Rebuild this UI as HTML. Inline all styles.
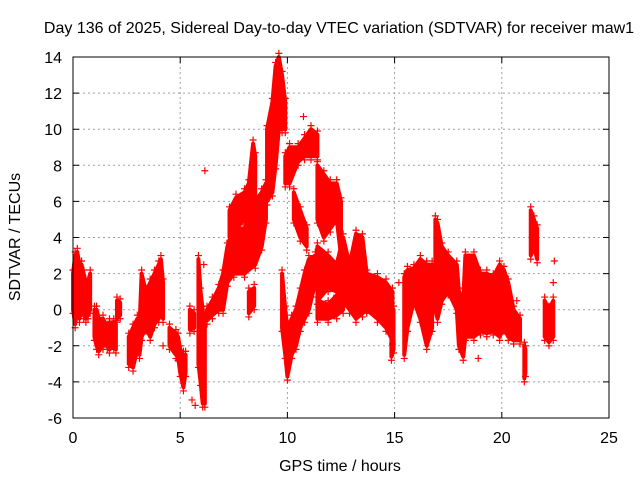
<!DOCTYPE html>
<html><head><meta charset="utf-8"><style>
body{margin:0;background:#fff}
svg{display:block;font-family:"Liberation Sans",sans-serif}
</style></head><body>
<svg id="c" width="640" height="480">
<text x="339" y="33" text-anchor="middle" font-size="16">Day 136 of 2025, Sidereal Day-to-day VTEC variation (SDTVAR) for receiver maw1</text>
<text x="340" y="471" text-anchor="middle" font-size="16">GPS time / hours</text>
<text transform="translate(20,237) rotate(-90)" text-anchor="middle" font-size="16">SDTVAR / TECUs</text>
<g id="grid"></g><g id="ticks"></g><g id="marks"></g>
<rect x="73" y="57" width="536" height="361" fill="none" stroke="#000"/>
</svg>
<script>
const xTicks=[0,5,10,15,20,25];
const yTicks=[-6,-4,-2,0,2,4,6,8,10,12,14];
// each cluster: [time, low, high] columns of observed SDTVAR spread
const c1=[[0,0,2],[0.1,-0.8,3],[0.2,0,3.2],[0.3,-0.5,2.5],[0.4,0,2.5],[0.5,-0.3,2],[0.6,-0.5,1.5],[0.7,-0.3,1.5],[0.8,0,2]];
const c2=[[1.0,-1.5,0],[1.1,-2,0],[1.2,-2.3,-0.5],[1.4,-2,-0.5],[1.6,-2,-1],[1.7,-2.2,-0.7],[1.9,-2,-0.7],[2.0,-2.2,-0.8]];
const c3=[[2.05,-0.5,0.5],[2.2,-0.3,0.4]];
const c4=[[2.6,-3,-1.5],[2.8,-3.2,-1],[3.0,-2.2,-0.5],[3.1,-2.5,-1],[3.2,-1.5,2],[3.4,-1,1],[3.6,-1.5,1.5],[3.8,-0.8,2],[4.0,-0.5,2.5],[4.1,0,2.8],[4.2,-0.5,1.5]];
const c5=[[4.5,-2,-1],[4.8,-2.5,-1.3],[4.9,-2.6,-1.5],[5.0,-3.5,-2.2],[5.15,-4.3,-2.5],[5.25,-3.5,-2.5]];
const c6=[[5.45,-1.1,0],[5.65,-1,-0.2]];
const c7=[[5.85,-3,2.8],[5.95,-4,1],[6.05,-5.2,0],[6.15,-5.2,-1]];
const c8=[[6.25,-0.6,0],[6.5,-0.3,0.5],[6.8,0,1.2],[7.0,0,2],[7.2,1.5,3.5],[7.5,2,4.5],[8.0,2,4.5],[8.5,2.5,6],[8.8,3.5,6.5],[9.0,5,7]];
const c9=[[7.3,4,5.5],[7.6,4.5,6.2],[8.0,5,6.5],[8.2,5.5,7],[8.4,6,9.2],[8.5,5.5,8.5]];
const c10=[[9.05,6,10],[9.3,6.5,11.5],[9.45,8,13.5],[9.6,10,14],[9.75,10,13],[9.9,10,11.5]];
const c11=[[9.75,-1,2],[9.9,-2.5,0],[10.0,-3.7,-1],[10.2,-2.5,-0.5],[10.4,-2,0],[10.6,-1,1],[10.8,-0.5,2],[11.0,0,2.8],[11.3,1.5,3]];
const c12=[[8.2,-0.2,1],[8.45,0.2,1.2]];
const c13=[[9.9,7,8.5],[10.1,7,9],[10.5,8.2,9],[10.8,8.5,9.5],[11.1,8.5,10],[11.4,8.5,9.7]];
const c14=[[10.3,5,6.5],[10.6,4,5.5],[10.9,3.5,4.5]];
const c15=[[11.4,5,8],[11.7,4,7.5],[12.0,4.5,7],[12.3,5,7],[12.5,3,6]];
const c15b=[[11.4,0.5,3.5],[11.9,1.2,3],[12.3,1,2.5],[12.6,0.5,4],[12.9,0,2.5],[13.2,-0.5,4.2],[13.5,-0.2,4],[13.7,0,2],[14.2,-0.5,1.8],[14.6,-1,1.5],[14.9,-1.7,1]];
const c16=[[11.4,-0.5,0.5],[11.9,-0.5,0.3],[12.3,-0.3,0.8],[12.6,0,1.5]];
const c17=[[14.85,-2.6,-1],[14.95,-2.2,0]];
const c18=[[15.45,-2.5,1.8],[15.6,-1,2.2],[15.9,0.5,2.3],[16.2,-0.5,2.8],[16.5,-2,2.5],[16.75,-1,2.5]];
const c19=[[16.9,0,5],[17.0,-0.5,4.8],[17.2,0.5,3.5],[17.5,1,3],[17.9,0,2.5],[18.0,-2,1],[18.2,-2.6,0.5],[18.3,-1.5,3],[18.7,-1.5,3],[19.0,-1.2,2],[19.3,-1.3,2],[19.6,-1.2,1.8],[19.9,-1.5,2.5],[20.1,-1,2.2],[20.3,-1.5,1.5],[20.55,-1.7,0],[20.85,-1.7,-0.5]];
const c20=[[21.05,-3.8,-2],[21.1,-3.5,-2.2]];
const c21=[[21.35,3,5.5],[21.5,3.5,5],[21.65,2.8,4.5]];
const c22=[[22.0,-1.5,0.5],[22.2,-1.8,0],[22.4,-1.5,0.5]];
const outliers=[[6.15,7.7],[6.1,2.5],[5.7,-5.3],[5.55,-5],[10.75,10.7],[22.45,2.7],[22.4,1.5],[15.2,1.5],[18.9,-2.7],[4.2,-2],[20.7,0.5]];
const clusters=[c1,c2,c3,c4,c5,c6,c7,c8,c9,c10,c11,c12,c13,c14,c15,c15b,c16,c17,c18,c19,c20,c21,c22];
const NS="http://www.w3.org/2000/svg";
const X=t=>73+t*536/25, Y=v=>57+(14-v)*361/20;
const grid=document.getElementById('grid'),ticks=document.getElementById('ticks'),marks=document.getElementById('marks');
function mk(tag,a,p){const e=document.createElementNS(NS,tag);for(const k in a)e.setAttribute(k,a[k]);p.appendChild(e);return e;}
xTicks.forEach(t=>{
 const x=X(t);
 if(t>0&&t<25){const g=mk('line',{x1:x,x2:x,y1:57,y2:418,stroke:'#a0a0a0','stroke-dasharray':'2,3'},grid);
 
 }
 const tk=mk('path',{d:`M${x} 418v-6M${x} 57v6`,stroke:'#000'},ticks);
 
 
 const l=mk('text',{x:x,y:443,'text-anchor':'middle','font-size':16},ticks);l.textContent=t;
 
 
});
yTicks.forEach(v=>{
 const y=Y(v);
 if(v>-6&&v<14){const g=mk('line',{x1:73,x2:609,y1:y,y2:y,stroke:'#a0a0a0','stroke-dasharray':'2,3'},grid);
 
 }
 const tk=mk('path',{d:`M73 ${y}h6M609 ${y}h-6`,stroke:'#000'},ticks);
 
 
 const l=mk('text',{x:62,y:y+6,'text-anchor':'end','font-size':16},ticks);l.textContent=v;
 
 
});
function plus(t,v){
 const x=X(t),y=Y(v);
 const p=mk('path',{d:`M${x-3.5} ${y}h7M${x} ${y-3.5}v7`,stroke:'#f00','stroke-width':1.2},marks);
 
 
}
clusters.forEach(cl=>{
 const top=cl.map(c=>X(c[0])+','+Y(c[2]));
 const bot=cl.slice().reverse().map(c=>X(c[0])+','+Y(c[1]));
 const pg=mk('polygon',{points:top.concat(bot).join(' '),fill:'#f00',stroke:'#f00','stroke-width':4,'stroke-linejoin':'round'},marks);
 
 
 cl.forEach(c=>{plus(c[0],c[1]-0.2);plus(c[0],c[2]+0.2);});
});
outliers.forEach(p=>plus(p[0],p[1]));
</script>
</body></html>
